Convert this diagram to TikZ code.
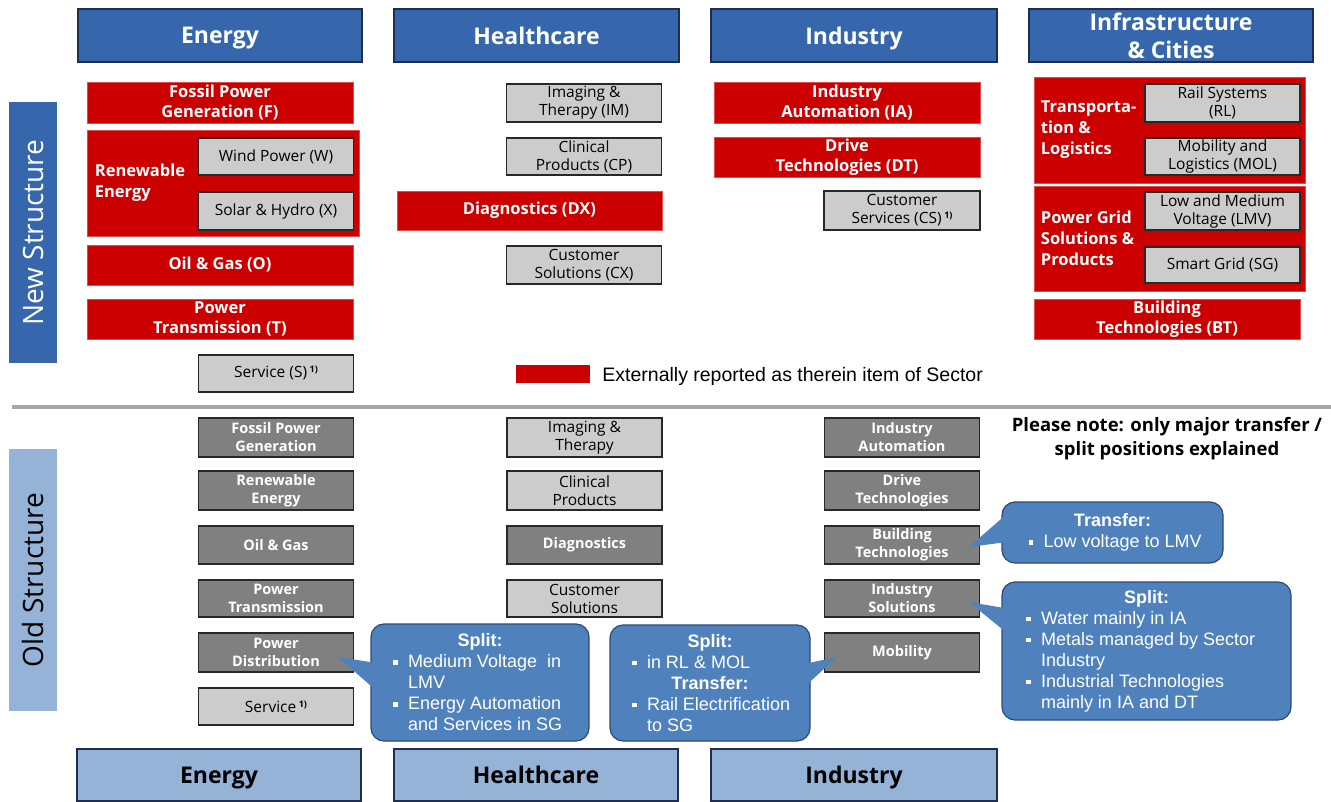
\documentclass[tikz,border=0pt]{standalone}
\usepackage{fontspec}
\setmainfont{Open Sans}
\newfontfamily\arialfont{Liberation Sans}
\usetikzlibrary{calc}
\definecolor{hdrblue}{RGB}{54,102,171}
\definecolor{hdrline}{RGB}{30,45,80}
\definecolor{oldblue}{RGB}{149,179,215}
\definecolor{secred}{RGB}{204,0,0}
\definecolor{unitgray}{RGB}{204,204,204}
\definecolor{olddark}{RGB}{128,128,128}
\definecolor{unitline}{RGB}{40,40,40}
\definecolor{bubfill}{RGB}{79,129,189}
\definecolor{bubline}{RGB}{44,74,120}
\definecolor{sepgray}{RGB}{166,166,166}
\newcommand\bsq{\rule[3pt]{4.5pt}{4.5pt}}
\newcommand\bitem[2]{\makebox[#1][l]{\makebox[15pt][l]{\bsq}#2}}
\newcommand\bmore[2]{\makebox[#1][l]{\hspace*{15pt}#2}}
\newcommand\fnote{\,\raisebox{5pt}{\fontsize{9}{9}\selectfont\bfseries 1)}}
\begin{document}
\begin{tikzpicture}[x=1pt,y=-1pt,
    every node/.style={inner sep=0pt,align=center},
    hdr/.style={draw=hdrline,line width=1.2pt,fill=hdrblue,text=white,minimum width=285pt,minimum height=53pt,text depth=0pt,font=\fontsize{23}{28}\selectfont\bfseries},
    oldhdr/.style={hdr,fill=oldblue,text=black},
    redbox/.style={draw=secred!70!white,line width=0.6pt,fill=secred,text=white,minimum width=266pt,minimum height=40pt,font=\fontsize{16.5}{20}\selectfont\bfseries},
    redtxt/.style={text=white,align=left,anchor=west,font=\fontsize{16.5}{21}\selectfont\bfseries},
    unit/.style={draw=unitline,line width=1.3pt,fill=unitgray,minimum width=155pt,minimum height=38pt,font=\fontsize{15.5}{18}\selectfont},
    oldunit/.style={unit,fill=olddark,text=white,font=\fontsize{14.5}{18}\selectfont\bfseries},
    bubble/.style={draw=bubline,line width=1.2pt,fill=bubfill,rounded corners=13pt,text=white,font=\arialfont\fontsize{18}{21}\selectfont},
    pointer/.style={fill=bubfill}]
  \useasboundingbox (0,0) rectangle (1331,802);
  %% sector heads
  \node[hdr,minimum width=284pt] (hEnergy) at (220,35.5) {Energy};
  \node[hdr] (hHealth) at (536.5,35.5) {Healthcare};
  \node[hdr,minimum width=286pt] (hIndustry) at (854,35.5) {Industry};
  \node[hdr,minimum width=284pt] (hCities) at (1171,35.5) {Infrastructure\\\& Cities};
  \node[fill=hdrblue,text=white,rotate=90,minimum width=261pt,minimum height=48pt,font=\fontsize{28}{30}\selectfont] (newbar) at (33,232.5) {New Structure};
  %% energy
  \node[redbox,minimum height=41pt] (fossil) at (220,102.5) {Fossil Power\\Generation (F)};
  \node[redbox,minimum width=272pt,minimum height=106pt] (renew) at (223,183) {};
  \node[redtxt] (renewtxt) at ([xshift=8pt]renew.west) {Renewable\\Energy};
  \node[unit,minimum height=37pt] (wind) at (276,156.5) {Wind Power (W)};
  \node[unit] (solar) at (276,211) {Solar \& Hydro (X)};
  \node[redbox] (oilgas) at (220,265) {Oil \& Gas (O)};
  \node[redbox] (ptrans) at (220,319) {Power\\Transmission (T)};
  \node[unit,minimum height=37pt] (service) at (276,373.5) {Service (S)\fnote};
  %% healthcare
  \node[unit] (imaging) at (584,103) {Imaging \&\\Therapy (IM)};
  \node[unit,minimum height=37pt] (clinical) at (584,156.5) {Clinical\\Products (CP)};
  \node[redbox,minimum width=265pt,minimum height=39pt] (diag) at (529.5,210.5) {Diagnostics (DX)};
  \node[unit] (custsol) at (584,265) {Customer\\Solutions (CX)};
  %% industry
  \node[redbox,minimum height=41pt] (indauto) at (847,102.5) {Industry\\Automation (IA)};
  \node[redbox] (drive) at (847,157) {Drive\\Technologies (DT)};
  \node[unit,minimum width=156pt,minimum height=39pt] (custserv) at (902,210.5) {Customer\\Services (CS)\fnote};
  %% infrastructure & cities
  \node[redbox,minimum width=271pt,minimum height=106pt] (transp) at (1169.5,130) {};
  \node[redtxt] (transptxt) at ([xshift=7pt]transp.west) {Transporta-\\tion \&\\Logistics};
  \node[unit] (rail) at (1222.5,103) {Rail Systems\\(RL)};
  \node[unit,minimum height=37pt] (mobil) at (1222.5,156.5) {Mobility and\\Logistics (MOL)};
  \node[redbox,minimum width=271pt,minimum height=105pt] (pgrid) at (1169.5,238.5) {};
  \node[redtxt] (pgridtxt) at ([xshift=7pt]pgrid.west) {Power Grid\\Solutions \&\\Products};
  \node[unit] (lmv) at (1222.5,211) {Low and Medium\\Voltage (LMV)};
  \node[unit,minimum height=36pt] (smartgrid) at (1222.5,265) {Smart Grid (SG)};
  \node[redbox] (building) at (1167,319) {Building\\Technologies (BT)};
  %% legend
  \node[fill=secred,minimum width=74pt,minimum height=18pt] (legbox) at (553,374) {};
  \node[anchor=west,font=\arialfont\fontsize{19.5}{22}\selectfont] (legtxt) at ([xshift=12pt,yshift=-2pt]legbox.east) {Externally reported as therein item of Sector};
  \draw[sepgray,line width=4pt] (12,407) -- (1331,407);
  %% old structure
  \node[fill=oldblue,rotate=90,minimum width=262pt,minimum height=48pt,font=\fontsize{28}{30}\selectfont] (oldbar) at (33,580) {Old Structure};
  \node[oldunit,minimum height=39pt] (ofossil) at (276,437.5) {Fossil Power\\Generation};
  \node[oldunit,minimum height=39pt] (orenew) at (276,490.5) {Renewable\\Energy};
  \node[oldunit] (ooilgas) at (276,545) {Oil \& Gas};
  \node[oldunit,minimum height=37pt] (optrans) at (276,598.5) {Power\\Transmission};
  \node[oldunit,minimum height=39pt] (opdist) at (276,652.5) {Power\\Distribution};
  \node[unit,minimum height=37pt] (oservice) at (276,706.5) {Service\fnote};
  \node[unit,minimum height=39pt] (oimaging) at (584.5,437.5) {Imaging \&\\Therapy};
  \node[unit,minimum height=39pt] (oclinical) at (584.5,490.5) {Clinical\\Products};
  \node[oldunit] (odiag) at (584.5,545) {Diagnostics};
  \node[unit,minimum height=37pt] (ocustsol) at (584.5,598.5) {Customer\\Solutions};
  \node[oldunit,minimum height=39pt] (oindauto) at (902,437.5) {Industry\\Automation};
  \node[oldunit,minimum height=39pt] (odrive) at (902,490.5) {Drive\\Technologies};
  \node[oldunit] (obuilding) at (902,545) {Building\\Technologies};
  \node[oldunit,minimum height=37pt] (oindsol) at (902,598.5) {Industry\\Solutions};
  \node[oldunit,minimum height=39pt] (omobil) at (902,652.5) {Mobility};
  \node[oldhdr,minimum width=284pt,minimum height=52pt] (bEnergy) at (219,775) {Energy};
  \node[oldhdr,minimum width=284pt,minimum height=52pt] (bHealth) at (536,775) {Healthcare};
  \node[oldhdr,minimum width=286pt,minimum height=52pt] (bIndustry) at (854,775) {Industry};
  \node[font=\fontsize{18.5}{24}\selectfont\bfseries] (note) at (1167,439) {Please note: only major transfer /\\split positions explained};
  %% callouts
  \node[bubble,minimum width=218pt,minimum height=117pt] (spEnergy) at (480,682.5)
    {\textbf{Split:}\\\bitem{174pt}{Medium Voltage\ \ in}\\\bmore{174pt}{LMV}\\\bitem{174pt}{Energy Automation}\\\bmore{174pt}{and Services in SG}};
  \node[bubble,minimum width=200pt,minimum height=116pt] (spMobil) at (710,683)
    {\textbf{Split:}\\\bitem{156pt}{in RL \& MOL}\\\textbf{Transfer:}\\\bitem{156pt}{Rail Electrification}\\\bmore{156pt}{to SG}};
  \node[bubble,minimum width=221pt,minimum height=61pt] (trBuild) at (1112.5,532.5)
    {\textbf{Transfer:}\\\bitem{168pt}{Low voltage to LMV}};
  \node[bubble,minimum width=289pt,minimum height=138pt] (spIndSol) at (1146.5,651)
    {\textbf{Split:}\\\bitem{241pt}{Water mainly in IA}\\\bitem{241pt}{Metals managed by Sector}\\\bmore{241pt}{Industry}\\\bitem{241pt}{Industrial Technologies}\\\bmore{241pt}{mainly in IA and DT}};
  \coordinate (tipDist) at (338,657);
  \coordinate (tipMobil) at (837,657);
  \coordinate (tipBuild) at (969,547);
  \coordinate (tipIndSol) at (969,602);
  \fill[pointer] (tipDist) -- ($(spEnergy.north west)!0.33!(spEnergy.south west)+(2,0)$) -- ($(spEnergy.north west)!0.54!(spEnergy.south west)+(2,0)$) -- cycle;
  \fill[pointer] (tipMobil) -- ($(spMobil.north east)!0.33!(spMobil.south east)+(-2,0)$) -- ($(spMobil.north east)!0.5!(spMobil.south east)+(-2,0)$) -- cycle;
  \fill[pointer] (tipBuild) -- ($(trBuild.north west)!0.25!(trBuild.south west)+(2,0)$) -- ($(trBuild.north west)!0.66!(trBuild.south west)+(2,0)$) -- cycle;
  \fill[pointer] (tipIndSol) -- ($(spIndSol.north west)!0.19!(spIndSol.south west)+(2,0)$) -- ($(spIndSol.north west)!0.35!(spIndSol.south west)+(2,0)$) -- cycle;
\end{tikzpicture}
\end{document}
